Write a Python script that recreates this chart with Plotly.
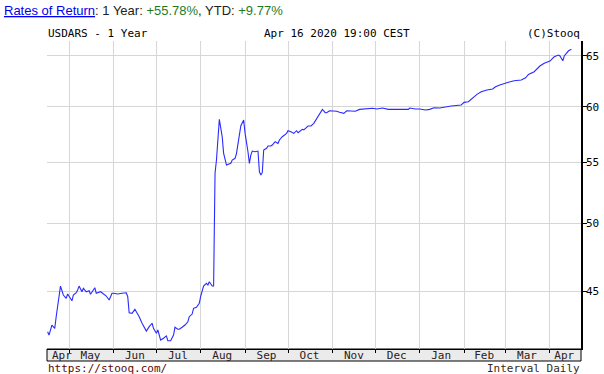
import plotly.graph_objects as go

# ---------------- data ----------------
dates = [
    "2019-04-16", "2019-04-17", "2019-04-19", "2019-04-21", "2019-04-22", "2019-04-24",
    "2019-04-25", "2019-04-27", "2019-04-29", "2019-04-30", "2019-05-03", "2019-05-04",
    "2019-05-06", "2019-05-07", "2019-05-08", "2019-05-10", "2019-05-11", "2019-05-13",
    "2019-05-15", "2019-05-16", "2019-05-19", "2019-05-20", "2019-05-23", "2019-05-24",
    "2019-05-26", "2019-05-27", "2019-05-29", "2019-05-31", "2019-06-01", "2019-06-04",
    "2019-06-07", "2019-06-10", "2019-06-11", "2019-06-12", "2019-06-14", "2019-06-16",
    "2019-06-17", "2019-06-19", "2019-06-21", "2019-06-23", "2019-06-24", "2019-06-26",
    "2019-06-28", "2019-06-29", "2019-07-01", "2019-07-02", "2019-07-04", "2019-07-06",
    "2019-07-08", "2019-07-09", "2019-07-11", "2019-07-13", "2019-07-14", "2019-07-16",
    "2019-07-17", "2019-07-19", "2019-07-21", "2019-07-23", "2019-07-24", "2019-07-26",
    "2019-07-27", "2019-07-29", "2019-07-31", "2019-08-01", "2019-08-03", "2019-08-05",
    "2019-08-06", "2019-08-07", "2019-08-09", "2019-08-10", "2019-08-11", "2019-08-12",
    "2019-08-14", "2019-08-16", "2019-08-17", "2019-08-19", "2019-08-21", "2019-08-22",
    "2019-08-23", "2019-08-25", "2019-08-26", "2019-08-28", "2019-08-29", "2019-08-31",
    "2019-09-01", "2019-09-03", "2019-09-04", "2019-09-05", "2019-09-06", "2019-09-08",
    "2019-09-10", "2019-09-11", "2019-09-12", "2019-09-13", "2019-09-14", "2019-09-16",
    "2019-09-17", "2019-09-19", "2019-09-20", "2019-09-22", "2019-09-24", "2019-09-25",
    "2019-09-27", "2019-09-30", "2019-10-01", "2019-10-03", "2019-10-05", "2019-10-07",
    "2019-10-08", "2019-10-11", "2019-10-12", "2019-10-15", "2019-10-17", "2019-10-19",
    "2019-10-21", "2019-10-24", "2019-10-25", "2019-10-27", "2019-10-28", "2019-10-30",
    "2019-11-01", "2019-11-04", "2019-11-06", "2019-11-09", "2019-11-11", "2019-11-13",
    "2019-11-17", "2019-11-20", "2019-11-25", "2019-11-29", "2019-12-02", "2019-12-06",
    "2019-12-10", "2019-12-17", "2019-12-24", "2019-12-25", "2019-12-29", "2020-01-01",
    "2020-01-05", "2020-01-08", "2020-01-11", "2020-01-15", "2020-01-19", "2020-01-23",
    "2020-01-30", "2020-02-01", "2020-02-04", "2020-02-06", "2020-02-10", "2020-02-13",
    "2020-02-17", "2020-02-21", "2020-02-23", "2020-02-26", "2020-02-29", "2020-03-03",
    "2020-03-07", "2020-03-12", "2020-03-15", "2020-03-17", "2020-03-21", "2020-03-25",
    "2020-03-28", "2020-04-01", "2020-04-04", "2020-04-07", "2020-04-08", "2020-04-10",
    "2020-04-11", "2020-04-13", "2020-04-14", "2020-04-16",
]

usdars = [
    42.23, 42.01, 42.67, 42.45, 43.23, 44.72,
    45.35, 44.72, 44.49, 44.79, 44.32, 44.72,
    44.88, 45.07, 45.35, 44.95, 45.19, 44.95,
    45.02, 44.77, 45.23, 44.84, 44.95, 44.88,
    44.72, 44.65, 44.37, 44.84, 44.84, 44.79,
    44.84, 44.88, 44.60, 43.50, 43.46, 43.73,
    43.57, 43.23, 42.79, 42.45, 42.27, 42.56,
    42.79, 42.45, 42.12, 42.34, 41.68, 41.80,
    41.95, 41.64, 41.64, 42.01, 42.52, 42.39,
    42.39, 42.52, 42.67, 42.89, 43.23, 43.41,
    43.80, 43.87, 44.15, 44.65, 45.35, 45.54,
    45.42, 45.66, 45.35, 45.35, 54.09, 55.22,
    58.85, 57.27, 55.80, 54.79, 54.94, 54.94,
    55.22, 55.37, 55.80, 57.57, 58.24, 58.78,
    57.57, 55.94, 54.94, 55.65, 56.00, 55.94,
    56.00, 54.22, 53.94, 54.14, 56.09, 56.24,
    56.44, 56.44, 56.53, 56.83, 56.68, 56.98,
    57.27, 57.57, 57.81, 57.72, 57.57, 57.81,
    57.63, 57.94, 57.89, 58.24, 58.24, 58.48,
    58.94, 59.55, 59.77, 59.46, 59.46, 59.64,
    59.64, 59.59, 59.50, 59.40, 59.64, 59.64,
    59.59, 59.77, 59.80, 59.87, 59.80, 59.90,
    59.77, 59.77, 59.77, 59.90, 59.80, 59.80,
    59.71, 59.77, 59.92, 59.90, 60.02, 60.08,
    60.18, 60.43, 60.49, 60.72, 61.19, 61.44,
    61.61, 61.70, 61.92, 62.09, 62.19, 62.35,
    62.51, 62.57, 62.80, 63.13, 63.39, 63.96,
    64.23, 64.46, 64.89, 65.07, 64.97, 64.49,
    64.97, 65.34, 65.50, 65.65,
]

month_starts = [
    "2019-05-01", "2019-06-01", "2019-07-01", "2019-08-01", "2019-09-01", "2019-10-01",
    "2019-11-01", "2019-12-01", "2020-01-01", "2020-02-01", "2020-03-01", "2020-04-01",
]
month_label_dates = [
    "2019-04-26", "2019-05-16", "2019-06-16", "2019-07-16", "2019-08-16", "2019-09-16",
    "2019-10-16", "2019-11-16", "2019-12-16", "2020-01-16", "2020-02-15", "2020-03-16",
    "2020-04-11",
]
month_labels = ["Apr", "May", "Jun", "Jul", "Aug", "Sep", "Oct", "Nov", "Dec",
                "Jan", "Feb", "Mar", "Apr"]

y_ticks = [45, 50, 55, 60, 65]
y_tick_labels = ["45", "50", "55", "60", "65"]

ticker = "USDARS - 1 Year"
stamp = "Apr 16 2020 19:00 CEST"
copyright_text = "(C)Stooq"
source_url = "https://stooq.com/"
interval_text = "Interval Daily"
return_1y = "+55.78%"
return_ytd = "+9.77%"

# ---------------- layout geometry ----------------
W, H = 604, 374
L, R, T, B = 47, 581, 41, 349
PW, PH = R - L, B - T

def px(xp):
    return (xp - L) / PW

def py(yp):
    return (B - yp) / PH

x_range = ["2019-04-15 14:00", "2020-04-22 17:00"]
y_range = [1.61387, 1.82289]

MONO = "DejaVu Sans Mono"
SANS = "Liberation Sans, Arial"
GRID = "#d6d6d6"

fig = go.Figure()
fig.add_trace(go.Scatter(
    x=dates, y=usdars, mode="lines",
    line=dict(color="#2a2aff", width=1.1),
    showlegend=False, hoverinfo="x+y",
))

common = dict(automargin=False, fixedrange=True, zeroline=False)

fig.update_layout(
    template="none",
    width=W, height=H,
    margin=dict(l=L, r=W - R, t=T, b=H - B, pad=0, autoexpand=False),
    paper_bgcolor="white", plot_bgcolor="white",
    showlegend=False,
    xaxis=dict(
        type="date", range=x_range,
        tickmode="array", tickvals=month_label_dates, ticktext=month_labels,
        ticks="", showgrid=False, showticklabels=True,
        tickfont=dict(family=MONO, size=11, color="#2a2020"),
        minor=dict(tickmode="array", tickvals=month_starts, ticks="outside",
                   ticklen=3, tickcolor="black", tickwidth=1,
                   showgrid=True, gridcolor=GRID, gridwidth=1),
        showline=True, linecolor="black", linewidth=1, **common,
    ),
    xaxis3=dict(
        type="date", range=x_range, overlaying="x", anchor="y", side="top",
        tickmode="array", tickvals=month_starts, showticklabels=False,
        ticks="inside", ticklen=4, tickcolor="black", showgrid=False,
        showline=True, linecolor="black", linewidth=1, **common,
    ),
    yaxis=dict(
        type="log", range=y_range, side="right", tickmode="array",
        tickvals=y_ticks, ticktext=y_tick_labels,
        ticks="outside", ticklen=4, tickcolor="black",
        showgrid=True, gridcolor=GRID, gridwidth=1,
        showline=True, linecolor="black", linewidth=1.5,
        tickfont=dict(family=MONO, size=11, color="black"), **common,
    ),
    yaxis2=dict(
        type="log", range=y_range, overlaying="y", anchor="x", side="left",
        tickmode="array", tickvals=y_ticks, showticklabels=False,
        ticks="inside", ticklen=4, tickcolor="black", showgrid=False,
        showline=True, linecolor="black", linewidth=1.5, **common,
    ),
)

# pull the month labels up into the band, and the price labels closer to their ticks
try:
    fig.layout.xaxis.ticklabelstandoff = -4
except Exception:
    pass
try:
    fig.layout.yaxis.ticklabelstandoff = -3
except Exception:
    pass

# month band below the plot
fig.add_shape(type="rect", xref="paper", yref="paper",
              x0=0, x1=1, y0=py(361), y1=py(349),
              fillcolor="#ebebeb", line=dict(color="black", width=1), layer="below")

green = "#1f7a1f"
title = (f'<a href="{source_url}" style="color:#0000ee">'
         f'<span style="text-decoration:underline">Rates of Return</span></a>'
         f': 1 Year: <span style="color:{green}">{return_1y}</span>, '
         f'YTD: <span style="color:{green}">{return_ytd}</span>')

annotations = [
    dict(text=title, x=px(3), y=py(10.5), xanchor="left", yanchor="middle",
         font=dict(family=SANS, size=13, color="#222")),
    dict(text=ticker, x=px(47), y=py(33), xanchor="left", yanchor="middle",
         font=dict(family=MONO, size=11, color="black")),
    dict(text=stamp, x=px(263), y=py(33), xanchor="left", yanchor="middle",
         font=dict(family=MONO, size=11, color="black")),
    dict(text=copyright_text, x=px(581), y=py(33), xanchor="right", yanchor="middle",
         font=dict(family=MONO, size=11, color="black")),
    dict(text=source_url, x=px(47), y=py(368), xanchor="left", yanchor="middle",
         font=dict(family=MONO, size=11, color="#5a0a0a")),
    dict(text=interval_text, x=px(581), y=py(368.5), xanchor="right", yanchor="middle",
         font=dict(family=MONO, size=11, color="#3a2a1a")),
]
for a in annotations:
    a.update(xref="paper", yref="paper", showarrow=False, borderpad=0)
fig.update_layout(annotations=annotations)

# the page's default body margin would shift the figure; remove it
fig.write_html(
    "out.html",
    config={"displayModeBar": False},
    post_script="document.body.style.margin='0';document.body.style.overflow='hidden';",
)
